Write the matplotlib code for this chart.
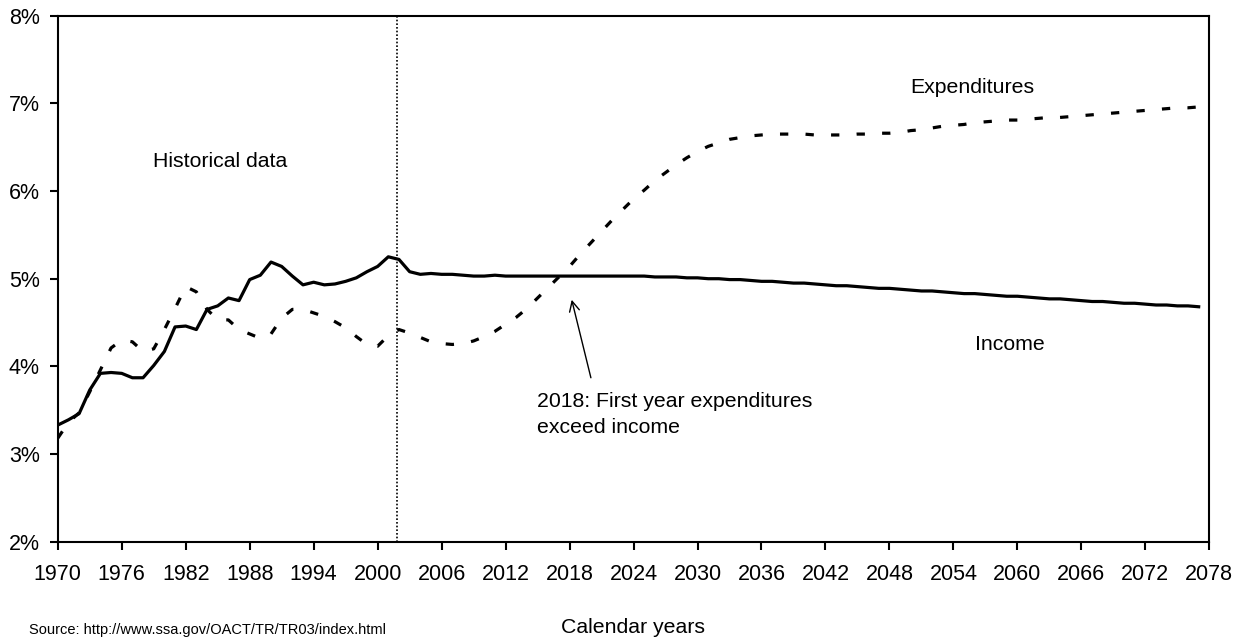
import numpy as np
import matplotlib.pyplot as plt
from matplotlib.ticker import FuncFormatter

plt.rcParams['font.family'] = ['Liberation Sans', 'DejaVu Sans']

years = list(range(1970, 2078))

# income as percent of taxable payroll
income = [3.33, 3.39, 3.46, 3.73, 3.92, 3.93, 3.92, 3.87, 3.87, 4.01,
          4.17, 4.45, 4.46, 4.42, 4.65, 4.69, 4.78, 4.75, 4.99, 5.04,
          5.19, 5.14, 5.03, 4.93, 4.96, 4.93, 4.94, 4.97, 5.01, 5.08,
          5.14, 5.25, 5.22, 5.08, 5.05, 5.06, 5.05, 5.05, 5.04, 5.03,
          5.03, 5.04, 5.03, 5.03, 5.03, 5.03, 5.03, 5.03, 5.03, 5.03,
          5.03, 5.03, 5.03, 5.03, 5.03, 5.03, 5.02, 5.02, 5.02, 5.01,
          5.01, 5.00, 5.00, 4.99, 4.99, 4.98, 4.97, 4.97, 4.96, 4.95,
          4.95, 4.94, 4.93, 4.92, 4.92, 4.91, 4.90, 4.89, 4.89, 4.88,
          4.87, 4.86, 4.86, 4.85, 4.84, 4.83, 4.83, 4.82, 4.81, 4.80,
          4.80, 4.79, 4.78, 4.77, 4.77, 4.76, 4.75, 4.74, 4.74, 4.73,
          4.72, 4.72, 4.71, 4.70, 4.70, 4.69, 4.69, 4.68]

expenditures = [3.18, 3.36, 3.47, 3.71, 3.96, 4.21, 4.30, 4.28, 4.17, 4.20,
                4.42, 4.66, 4.91, 4.85, 4.65, 4.53, 4.53, 4.42, 4.37, 4.32,
                4.37, 4.55, 4.65, 4.65, 4.61, 4.57, 4.51, 4.44, 4.34, 4.25,
                4.23, 4.35, 4.42, 4.38, 4.33, 4.28, 4.26, 4.25, 4.26, 4.29,
                4.34, 4.40, 4.48, 4.56, 4.66, 4.78, 4.90, 5.02, 5.14, 5.28,
                5.41, 5.54, 5.67, 5.79, 5.91, 6.01, 6.12, 6.21, 6.30, 6.38,
                6.45, 6.51, 6.55, 6.59, 6.61, 6.63, 6.64, 6.65, 6.65, 6.65,
                6.65, 6.64, 6.64, 6.64, 6.64, 6.65, 6.65, 6.66, 6.66, 6.67,
                6.69, 6.70, 6.72, 6.74, 6.75, 6.76, 6.78, 6.79, 6.80, 6.81,
                6.81, 6.82, 6.83, 6.84, 6.84, 6.85, 6.86, 6.87, 6.88, 6.89,
                6.90, 6.91, 6.92, 6.93, 6.94, 6.95, 6.95, 6.96]

xticks = list(range(1970, 2079, 6))
yticks = [2, 3, 4, 5, 6, 7, 8]
history_end = 2001.8
cross_year = 2018

fig = plt.figure(figsize=(12.42, 6.38), dpi=100)
ax = fig.add_axes([0.0465, 0.151, 0.9272, 0.8243])

ax.plot(years, income, color='black', lw=2.3, solid_joinstyle='round')
ax.plot(years, expenditures, color='black', lw=2.3, dashes=(2.6, 5.4))
ax.axvline(history_end, color='black', lw=1.2, ls=(0, (1, 1.2)))

ax.set_xlim(1970, 2078)
ax.set_ylim(2, 8)
ax.set_xticks(xticks)
ax.set_yticks(yticks)
ax.yaxis.set_major_formatter(FuncFormatter(lambda v, p: '%d%%' % v))
ax.tick_params(direction='out', length=6, width=1.5, labelsize=15.5,
               colors='black')
ax.tick_params(axis='x', pad=10)
ax.tick_params(axis='y', pad=7)
for s in ax.spines.values():
    s.set_linewidth(1.5)

ax.text(1985.2, 6.34, 'Historical data', fontsize=15.3, ha='center', va='center')
ax.text(2055.8, 7.18, 'Expenditures', fontsize=15.3, ha='center', va='center')
ax.text(2059.3, 4.25, 'Income', fontsize=15.3, ha='center', va='center')
ax.annotate('', xy=(2018.2, 4.76), xytext=(2020.0, 3.87),
            arrowprops=dict(arrowstyle='->', color='black', lw=1,
                            shrinkA=0, shrinkB=0, mutation_scale=18))
ax.text(2014.96, 3.455, '%d: First year expenditures\nexceed income' % cross_year,
        fontsize=15.3, ha='left', va='center', linespacing=1.45)

fig.text(0.51, 0.017, 'Calendar years', fontsize=15.3, ha='center', va='center')
fig.text(0.023, 0.002, 'Source: http://www.ssa.gov/OACT/TR/TR03/index.html',
         fontsize=10.5, ha='left', va='bottom')

fig.savefig('out.png', dpi=100)
